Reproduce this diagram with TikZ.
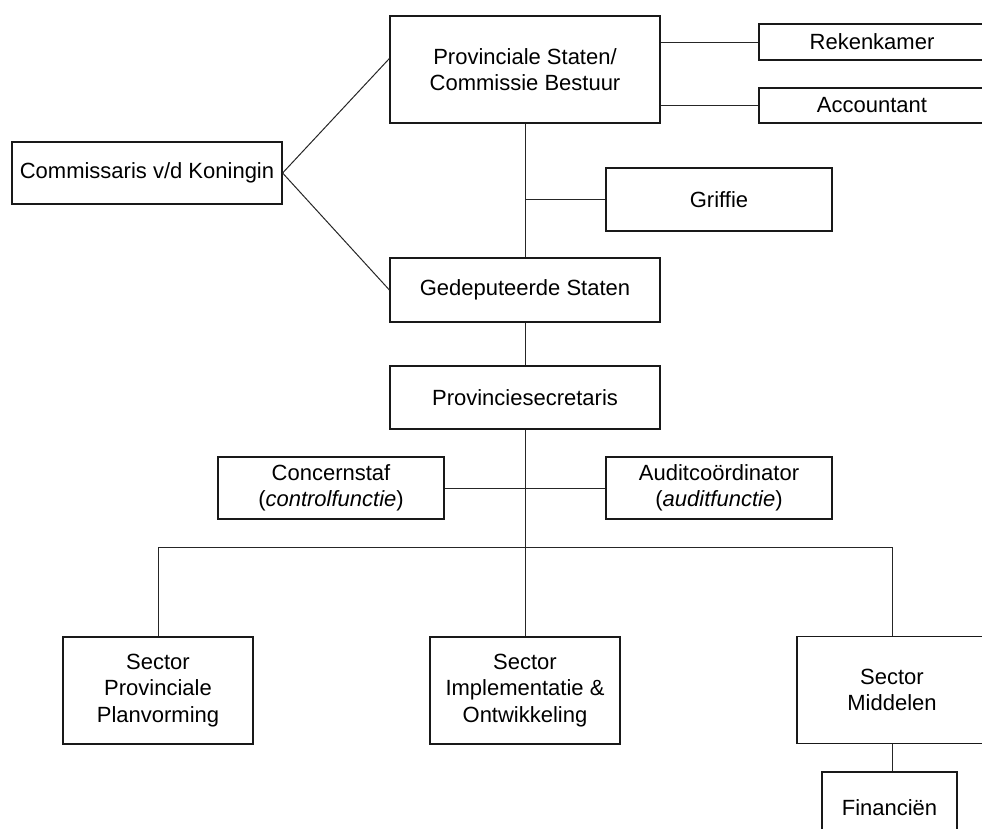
\documentclass[tikz,border=0pt]{standalone}
\usepackage{fontspec}
\setmainfont{Liberation Sans}
\usetikzlibrary{calc}

\begin{document}
\begin{tikzpicture}
[-,x=1pt,y=-1pt,line width=1pt,draw=black!85,
  unit/.style={rectangle,draw=black!90,fill=white,line width=1.2pt,inner sep=0pt,align=center,
    font=\fontsize{22}{26.5}\selectfont,minimum width=#1},
  unit/.default=226]
  \useasboundingbox (0,0) rectangle (982,828);
  % bestuur
  \node[unit=270,minimum height=107] (ps) at (525,69.5) {Provinciale Staten/\\Commissie Bestuur};
  \node[unit,minimum height=36] (rek) at (872,42) {Rekenkamer};
  \node[unit,minimum height=35] (acc) at (872,105.5) {Accountant};
  \node[unit=270,minimum height=62] (cdk) at (147,173) {Commissaris v/d Koningin};
  \node[unit,minimum height=63] (grif) at (719,199.5) {Griffie};
  \node[unit=270,minimum height=64] (gs) at (525,290) {Gedeputeerde Staten};
  % ambtelijk
  \node[unit=270,minimum height=63] (psec) at (525,397.5) {Provinciesecretaris};
  \node[unit,minimum height=62] (cstaf) at (331,488) {Concernstaf\\(\textit{controlfunctie})};
  \node[unit,minimum height=62] (audit) at (719,488) {Auditcoördinator\\(\textit{auditfunctie})};
  \coordinate (bus) at (525,547);
  \node[unit=190,minimum height=107] (spp) at (158,690.5) {Sector\\Provinciale\\Planvorming};
  \node[unit=190,minimum height=107] (sio) at (525,690.5) {Sector\\Implementatie \&\\Ontwikkeling};
  \node[unit=190,minimum height=107] (smid) at (892,690) {Sector\\Middelen};
  \node[unit=135,minimum height=72] (fin) at (889.5,808) {Financiën};
  \begin{scope}[on background layer/.try]
  \path[draw]
    (ps) edge (gs)
    (grif.west -| ps.south) edge (grif.west)
    (rek.west -| ps.east) edge (rek.west)
    (acc.west -| ps.east) edge (acc.west)
    (cdk.east) edge ($(ps.west)+(0,-11)$)
    (cdk.east) edge (gs.west)
    (gs) edge (psec)
    (psec.south) edge (sio.north)
    (cstaf.east) edge (audit.west)
    (smid.south) edge (smid.south |- fin.north);
  \draw (spp.north) |- (bus) -| (smid.north);
  \end{scope}
\end{tikzpicture}
\end{document}
